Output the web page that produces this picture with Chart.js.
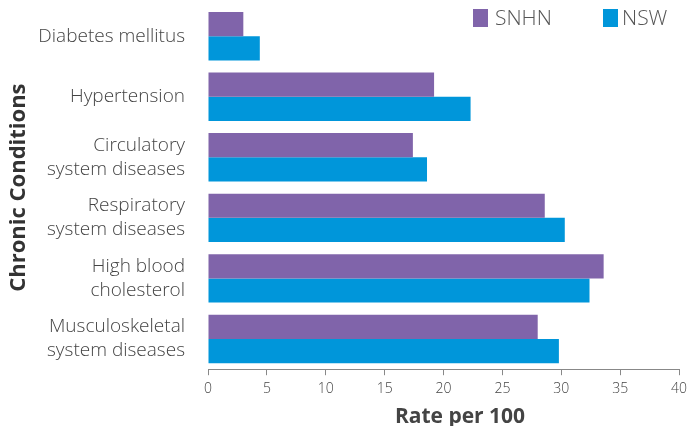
<!DOCTYPE html>
<html>
<head>
<meta charset="utf-8">
<script src="https://cdn.jsdelivr.net/npm/chart.js@4"></script>
<style>
  html, body { margin: 0; padding: 0; background: #fff; }
  #wrap { width: 687px; height: 426px; }
</style>
</head>
<body>
<div id="wrap"><canvas id="grafico"></canvas></div>
<script>
// Categorías y valores
const categorias = [
  'Diabetes mellitus',
  'Hypertension',
  ['Circulatory', 'system diseases'],
  ['Respiratory', 'system diseases'],
  ['High blood', 'cholesterol'],
  ['Musculoskeletal', 'system diseases']
];
const valoresSNHN = [3.0, 19.2, 17.4, 28.6, 33.6, 28.0];
const valoresNSW = [4.4, 22.3, 18.6, 30.3, 32.4, 29.8];
const ticksX = [0, 5, 10, 15, 20, 25, 30, 35, 40];

const colorSNHN = '#8064aa';
const colorNSW = '#0096da';
const fuente = "'Open Sans', 'Noto Sans', sans-serif";

// Leyenda arriba a la derecha y título del eje X (un poco desplazado a la derecha, como en el original)
const leyendaPlugin = {
  id: 'leyenda',
  afterDraw(chart) {
    const c = chart.ctx;
    c.save();
    c.font = '300 21px ' + fuente;
    c.textBaseline = 'middle';
    c.fillStyle = colorSNHN;
    c.fillRect(473, 9, 15, 18);
    c.fillStyle = '#555';
    c.fillText('SNHN', 495, 19);
    c.fillStyle = colorNSW;
    c.fillRect(603, 9, 15, 18);
    c.fillStyle = '#555';
    c.fillText('NSW', 622, 19);

    c.font = 'bold 21px ' + fuente;
    c.fillStyle = '#444';
    c.textAlign = 'center';
    c.fillText('Rate per 100', 460, chart.chartArea.bottom + 48);
    c.restore();
  }
};

const ctx = document.getElementById('grafico').getContext('2d');
const chart = new Chart(ctx, {
  type: 'bar',
  data: {
    labels: categorias,
    datasets: [
      { label: 'SNHN', data: valoresSNHN, backgroundColor: colorSNHN },
      { label: 'NSW', data: valoresNSW, backgroundColor: colorNSW }
    ]
  },
  options: {
    indexAxis: 'y',
    responsive: true,
    maintainAspectRatio: false,
    animation: false,
    datasets: { bar: { categoryPercentage: 0.8, barPercentage: 1.0 } },
    layout: { padding: { top: 6, right: 0, left: 6, bottom: 24 } },
    plugins: { legend: { display: false }, tooltip: { enabled: false } },
    scales: {
      x: {
        min: 0,
        max: 40,
        afterBuildTicks: (scale) => { scale.ticks = ticksX.map(v => ({ value: v })); },
        afterFit: (scale) => { scale.paddingRight = 8; },
        grid: { display: true, drawOnChartArea: false, color: '#888', tickLength: 6 },
        border: { display: true, color: '#888' },
        ticks: { color: '#444', font: { family: fuente, size: 14, weight: '300' }, padding: 5 }
      },
      y: {
        afterFit: (scale) => {
          scale.width = 202;
          scale.paddingTop = 0;
          scale.paddingBottom = 0;
        },
        grid: { display: false },
        border: { display: false },
        ticks: {
          color: '#444',
          font: { family: fuente, size: 19, weight: '300', lineHeight: 1.26 },
          padding: 15
        },
        title: {
          display: true,
          text: 'Chronic Conditions',
          color: '#333',
          font: { family: fuente, size: 22, weight: 'bold' },
          padding: { top: 0, bottom: 0 }
        }
      }
    }
  },
  plugins: [leyendaPlugin]
});
</script>
</body>
</html>
